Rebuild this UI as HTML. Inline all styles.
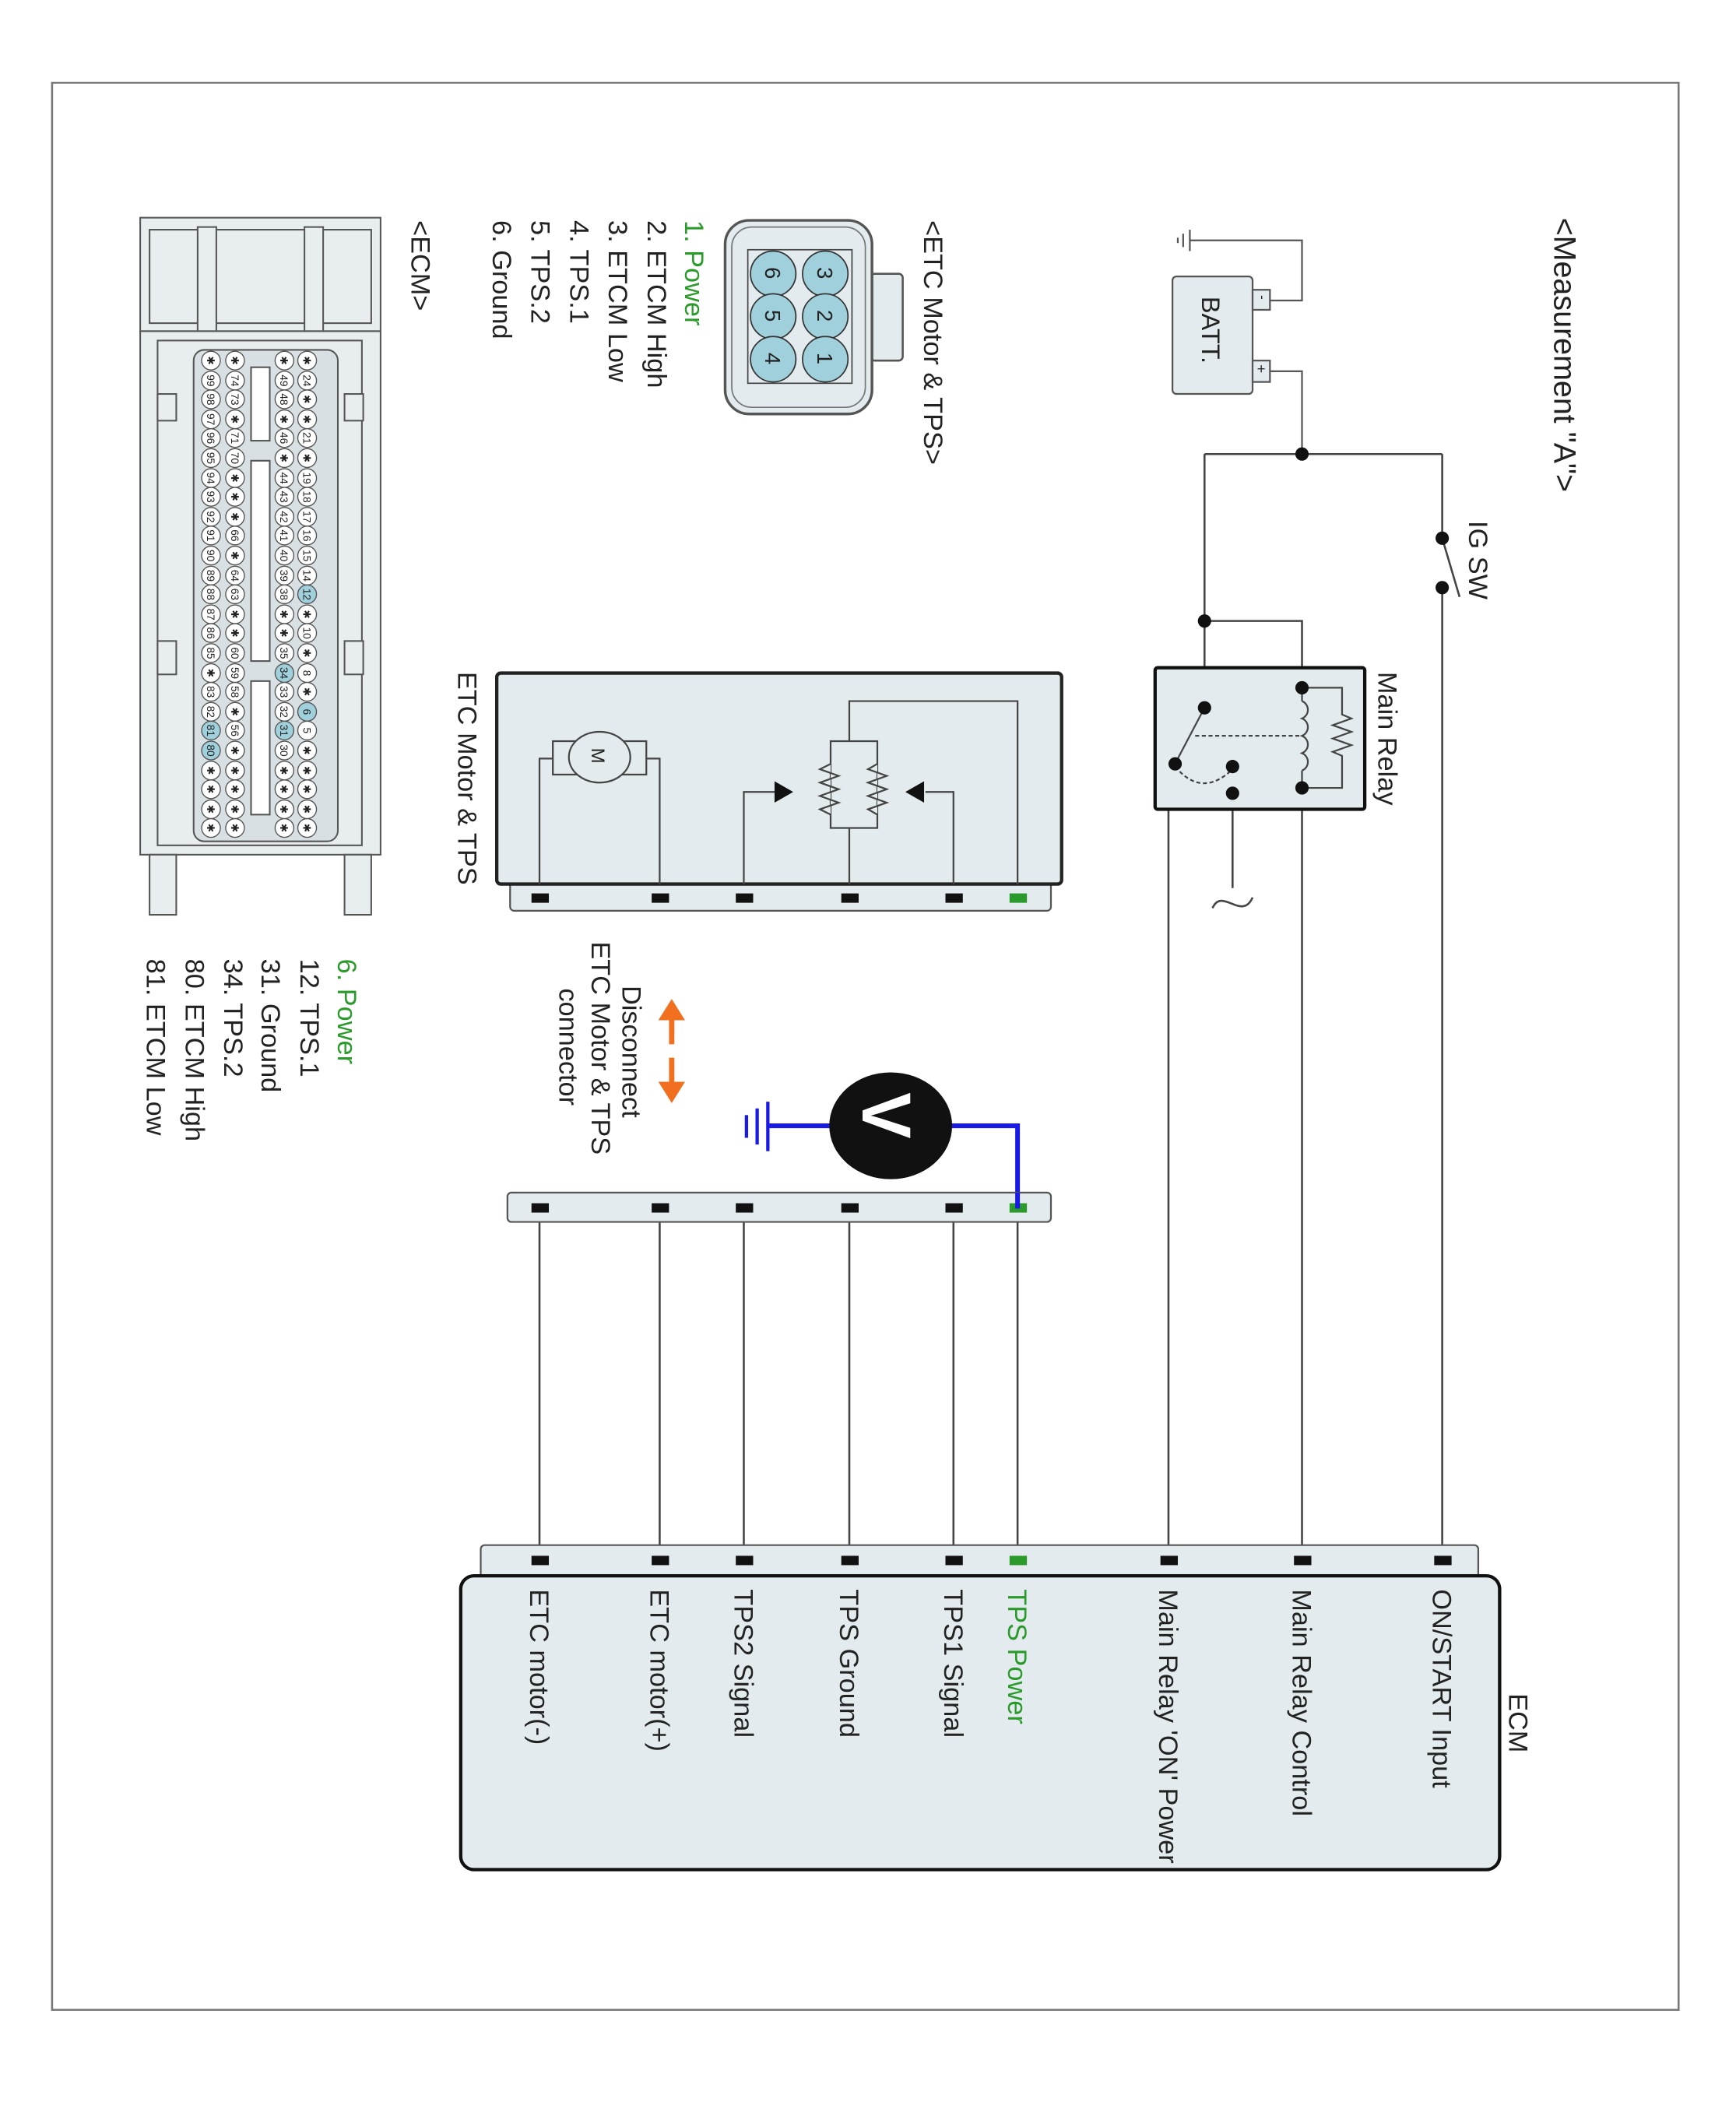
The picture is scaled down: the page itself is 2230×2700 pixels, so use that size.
<!DOCTYPE html>
<html><head><meta charset="utf-8"><style>
html,body{margin:0;padding:0;background:#fff;}
svg{display:block;}
text{font-family:"Liberation Sans",sans-serif;}
</style></head><body>
<svg width="2230" height="2700" viewBox="0 0 1300 1574" preserveAspectRatio="none" xmlns="http://www.w3.org/2000/svg">
<rect x="39" y="62" width="1218" height="1443" fill="#fff" stroke="#777" stroke-width="1.5"/>

<!-- Measurement title -->
<text transform="translate(1164,163) rotate(90)" font-size="23" fill="#222">&lt;Measurement "A"&gt;</text>

<!-- Battery -->
<g stroke="#555" stroke-width="1.3" fill="none">
<rect x="878" y="207" width="60" height="88" rx="3" fill="#e3ebee"/>
<rect x="938" y="217" width="13" height="15" fill="#e3ebee"/>
<rect x="938" y="270" width="13" height="16" fill="#e3ebee"/>
<polyline points="951,225 975,225 975,180 891,180"/>
<line x1="891" y1="172" x2="891" y2="188"/>
<line x1="886" y1="175" x2="886" y2="185"/>
<line x1="882" y1="178" x2="882" y2="182"/>
<polyline points="951,278 975,278 975,340"/>
</g>
<text transform="translate(900,222) rotate(90)" font-size="19" fill="#222">BATT.</text>
<text transform="translate(942,221) rotate(90)" font-size="10" fill="#222">-</text>
<text transform="translate(941,273) rotate(90)" font-size="11" fill="#222">+</text>

<!-- Main wiring -->
<g stroke="#444" stroke-width="1.5" fill="none">
<line x1="902" y1="340" x2="1080" y2="340"/>
<line x1="1080" y1="340" x2="1080" y2="403"/>
<line x1="1080" y1="403" x2="1093" y2="447"/>
<line x1="1080" y1="440" x2="1080" y2="1163"/>
<line x1="902" y1="340" x2="902" y2="530"/>
<polyline points="902,465 975,465 975,515"/>
<line x1="975" y1="590" x2="975" y2="1163"/>
<polyline points="923,594 875,594 875,1163"/>
<line x1="923" y1="574" x2="923" y2="665"/>
<path d="M908,680 C915,664 930,690 938,672"/>
</g>
<g fill="#111">
<circle cx="975" cy="340" r="5"/>
<circle cx="1080" cy="403" r="5"/>
<circle cx="1080" cy="440" r="5"/>
<circle cx="902" cy="465" r="5"/>
</g>
<text transform="translate(1100,390) rotate(90)" font-size="20" fill="#222">IG SW</text>

<!-- Main relay -->
<rect x="865" y="500" width="157" height="106" fill="#e3ebee" stroke="#111" stroke-width="2.5" rx="2"/>
<g stroke="#444" stroke-width="1.3" fill="none">
<path d="M975,525 a7,7 0 0 1 0,13 a7,7 0 0 1 0,13 a7,7 0 0 1 0,13 a7,7 0 0 1 0,13"/>
<line x1="975" y1="515" x2="975" y2="525"/>
<line x1="975" y1="577" x2="975" y2="590"/>
<polyline points="975,515 1005,515 1005,535 1012,538 998,543 1012,548 998,553 1012,558 998,563 1005,566 1005,590 975,590"/>
<line x1="902" y1="530" x2="882" y2="568"/>
<line x1="895" y1="551" x2="975" y2="551" stroke-dasharray="3,2"/>
<path d="M880,574 Q900,598 923,576" stroke-dasharray="3,2"/>
</g>
<g fill="#111">
<circle cx="975" cy="515" r="5"/><circle cx="975" cy="590" r="5"/>
<circle cx="902" cy="530" r="5"/><circle cx="880" cy="572" r="5"/>
<circle cx="923" cy="574" r="5"/><circle cx="923" cy="594" r="5"/>
</g>
<text transform="translate(1032,503) rotate(90)" font-size="20" fill="#222">Main Relay</text>

<!-- ETC motor & TPS box -->
<rect x="382" y="660" width="405" height="22" rx="3" fill="#e3ebee" stroke="#555" stroke-width="1.3"/>
<rect x="372" y="504" width="423" height="158" rx="3" fill="#e3ebee" stroke="#222" stroke-width="2.5"/>
<g stroke="#444" stroke-width="1.3" fill="none">
<polyline points="404,662 404,568 414,568"/>
<rect x="414" y="555" width="20" height="25"/>
<rect x="464" y="555" width="20" height="25"/>
<polyline points="484,568 494,568 494,662"/>
<ellipse cx="449" cy="567" rx="23" ry="19" fill="#e3ebee"/>
<polyline points="557,662 557,593 580,593"/>
<polyline points="714,662 714,593 693,593"/>
<polyline points="636,662 636,620"/>
<rect x="622" y="555" width="35" height="65"/>
<polyline points="636,555 636,525 762,525 762,662"/>
</g>
<g stroke="#444" stroke-width="1.3" fill="#e3ebee">
<polyline points="622,572 614,576 628,581 614,586 628,591 614,596 628,601 614,606 622,610"/>
<polyline points="657,572 650,576 664,581 650,586 664,591 650,596 664,601 650,606 657,610"/>
</g>
<polygon points="580,585 580,601 594,593" fill="#111"/>
<polygon points="692,585 692,601 678,593" fill="#111"/>
<text transform="translate(443,560) rotate(90)" font-size="14" fill="#222">M</text>
<g fill="#111">
<rect x="398" y="669" width="13" height="7"/><rect x="488" y="669" width="13" height="7"/>
<rect x="551" y="669" width="13" height="7"/><rect x="630" y="669" width="13" height="7"/>
<rect x="708" y="669" width="13" height="7"/><rect x="756" y="669" width="13" height="7" fill="#2a9a2a"/>
</g>
<text transform="translate(343,503) rotate(90)" font-size="20" fill="#222">ETC Motor &amp; TPS</text>

<!-- Voltmeter -->
<g stroke="#1a1ae6" stroke-width="3.5" fill="none">
<polyline points="710,843 762,843 762,905"/>
<line x1="623" y1="843" x2="575" y2="843"/>
</g>
<g stroke="#1a1ae6" stroke-width="2.5">
<line x1="575" y1="825" x2="575" y2="862"/>
<line x1="567" y1="830" x2="567" y2="857"/>
<line x1="559" y1="835" x2="559" y2="852"/>
</g>
<ellipse cx="667" cy="843" rx="46" ry="40" fill="#111"/>
<text transform="translate(646,818) rotate(90)" font-size="52" font-weight="bold" fill="#fff">V</text>
<!-- orange arrows -->
<g stroke="#f07020" stroke-width="4" fill="#f07020">
<line x1="503" y1="782" x2="503" y2="762"/>
<line x1="503" y1="792" x2="503" y2="812"/>
</g>
<polygon points="493,764 513,764 503,748" fill="#f07020"/>
<polygon points="493,810 513,810 503,826" fill="#f07020"/>
<text transform="translate(466,738) rotate(90)" font-size="20" fill="#222">Disconnect</text>
<text transform="translate(443,705) rotate(90)" font-size="20" fill="#222">ETC Motor &amp; TPS</text>
<text transform="translate(419,740) rotate(90)" font-size="20" fill="#222">connector</text>

<!-- Lower connector and wires -->
<g stroke="#444" stroke-width="1.5">
<line x1="404" y1="904" x2="404" y2="1168"/><line x1="494" y1="904" x2="494" y2="1168"/>
<line x1="557" y1="904" x2="557" y2="1168"/><line x1="636" y1="904" x2="636" y2="1168"/>
<line x1="714" y1="904" x2="714" y2="1168"/><line x1="762" y1="915" x2="762" y2="1168"/>
</g>
<rect x="380" y="893" width="407" height="22" rx="3" fill="#e3ebee" stroke="#555" stroke-width="1.3"/>
<g fill="#111">
<rect x="398" y="901" width="13" height="7"/><rect x="488" y="901" width="13" height="7"/>
<rect x="551" y="901" width="13" height="7"/><rect x="630" y="901" width="13" height="7"/>
<rect x="708" y="901" width="13" height="7"/><rect x="756" y="901" width="13" height="7" fill="#2a9a2a"/>
</g>
<line x1="762" y1="893" x2="762" y2="905" stroke="#1a1ae6" stroke-width="3.5"/>

<!-- ECM -->
<rect x="360" y="1157" width="747" height="25" rx="3" fill="#e3ebee" stroke="#555" stroke-width="1.3"/>
<rect x="345" y="1180" width="778" height="220" rx="10" fill="#e3ebee" stroke="#111" stroke-width="2.5"/>
<g fill="#111">
<rect x="398" y="1165" width="13" height="7"/><rect x="488" y="1165" width="13" height="7"/>
<rect x="551" y="1165" width="13" height="7"/><rect x="630" y="1165" width="13" height="7"/>
<rect x="708" y="1165" width="13" height="7"/><rect x="756" y="1165" width="13" height="7" fill="#2a9a2a"/>
<rect x="869" y="1165" width="13" height="7"/><rect x="969" y="1165" width="13" height="7"/>
<rect x="1074" y="1165" width="13" height="7"/>
</g>
<g font-size="20" fill="#222">
<text transform="translate(1130,1268) rotate(90)">ECM</text>
<text transform="translate(1073,1190) rotate(90)">ON/START Input</text>
<text transform="translate(968,1190) rotate(90)">Main Relay Control</text>
<text transform="translate(868,1190) rotate(90)">Main Relay 'ON' Power</text>
<text transform="translate(755,1190) rotate(90)" fill="#2a9a2a">TPS Power</text>
<text transform="translate(707,1190) rotate(90)">TPS1 Signal</text>
<text transform="translate(629,1190) rotate(90)">TPS Ground</text>
<text transform="translate(550,1190) rotate(90)">TPS2 Signal</text>
<text transform="translate(487,1190) rotate(90)">ETC motor(+)</text>
<text transform="translate(397,1190) rotate(90)">ETC motor(-)</text>
</g>

<!-- ETC connector view -->
<text transform="translate(692,165) rotate(90)" font-size="20" fill="#222">&lt;ETC Motor &amp; TPS&gt;</text>
<rect x="652" y="205" width="24" height="65" rx="3" fill="#e3ebee" stroke="#555" stroke-width="1.5"/>
<rect x="543" y="165" width="110" height="145" rx="18" fill="#e3ebee" stroke="#555" stroke-width="2"/>
<rect x="548" y="170" width="100" height="135" rx="15" fill="none" stroke="#777" stroke-width="1"/>
<rect x="560" y="187" width="78" height="100" fill="#e3ebee" stroke="#444" stroke-width="1"/>
<g fill="#9fd0dc" stroke="#333" stroke-width="1">
<circle cx="618" cy="205" r="17"/><circle cx="618" cy="237" r="17"/><circle cx="618" cy="269" r="17"/>
<circle cx="579" cy="205" r="17"/><circle cx="579" cy="237" r="17"/><circle cx="579" cy="269" r="17"/>
</g>
<g font-size="16" fill="#222">
<text transform="translate(612,200) rotate(90)">3</text><text transform="translate(612,232) rotate(90)">2</text><text transform="translate(612,264) rotate(90)">1</text>
<text transform="translate(573,200) rotate(90)">6</text><text transform="translate(573,232) rotate(90)">5</text><text transform="translate(573,264) rotate(90)">4</text>
</g>
<g font-size="20" fill="#222">
<text transform="translate(513,165) rotate(90)" fill="#2a9a2a">1. Power</text>
<text transform="translate(485,165) rotate(90)">2. ETCM High</text>
<text transform="translate(456,165) rotate(90)">3. ETCM Low</text>
<text transform="translate(427,165) rotate(90)">4. TPS.1</text>
<text transform="translate(398,165) rotate(90)">5. TPS.2</text>
<text transform="translate(369,165) rotate(90)">6. Ground</text>
</g>

<!-- ECM connector view -->
<text transform="translate(308,165) rotate(90)" font-size="20" fill="#222">&lt;ECM&gt;</text>
<g stroke="#555" stroke-width="1.2" fill="#e8eef0">
<rect x="105" y="163" width="180" height="85"/>
<rect x="112" y="172" width="166" height="70" fill="none"/>
<rect x="148" y="170" width="14" height="78"/>
<rect x="228" y="170" width="14" height="78"/>
<rect x="105" y="248" width="180" height="392"/>
<rect x="118" y="255" width="153" height="378"/>
<rect x="145" y="262" width="108" height="368" rx="8" fill="#d8e0e3"/>
<rect x="258" y="295" width="14" height="20"/><rect x="258" y="480" width="14" height="25"/>
<rect x="118" y="295" width="14" height="20"/><rect x="118" y="480" width="14" height="25"/>
<rect x="188" y="275" width="14" height="55" fill="#fff"/>
<rect x="188" y="345" width="14" height="150" fill="#fff"/>
<rect x="188" y="510" width="14" height="100" fill="#fff"/>
<rect x="112" y="640" width="20" height="45"/><rect x="258" y="640" width="20" height="45"/>
</g>
<g stroke="#555" stroke-width="0.8" font-size="8" fill="#222">
<g transform="translate(230,0)">
<g fill="#fff"><circle cy="270" r="7"/><circle cy="285" r="7"/><circle cy="299" r="7"/><circle cy="314" r="7"/><circle cy="328" r="7"/><circle cy="343" r="7"/><circle cy="358" r="7"/><circle cy="372" r="7"/><circle cy="387" r="7"/><circle cy="401" r="7"/><circle cy="416" r="7"/><circle cy="431" r="7"/><circle cy="445" r="7" fill="#9fd0dc"/><circle cy="460" r="7"/><circle cy="474" r="7"/><circle cy="489" r="7"/><circle cy="504" r="7"/><circle cy="518" r="7"/><circle cy="533" r="7" fill="#9fd0dc"/><circle cy="547" r="7"/><circle cy="562" r="7"/><circle cy="577" r="7"/><circle cy="591" r="7"/><circle cy="606" r="7"/><circle cy="620" r="7"/></g>
</g>
<g transform="translate(213,0)">
<g fill="#fff"><circle cy="270" r="7"/><circle cy="285" r="7"/><circle cy="299" r="7"/><circle cy="314" r="7"/><circle cy="328" r="7"/><circle cy="343" r="7"/><circle cy="358" r="7"/><circle cy="372" r="7"/><circle cy="387" r="7"/><circle cy="401" r="7"/><circle cy="416" r="7"/><circle cy="431" r="7"/><circle cy="445" r="7"/><circle cy="460" r="7"/><circle cy="474" r="7"/><circle cy="489" r="7"/><circle cy="504" r="7" fill="#9fd0dc"/><circle cy="518" r="7"/><circle cy="533" r="7"/><circle cy="547" r="7" fill="#9fd0dc"/><circle cy="562" r="7"/><circle cy="577" r="7"/><circle cy="591" r="7"/><circle cy="606" r="7"/><circle cy="620" r="7"/></g>
</g>
<g transform="translate(176,0)">
<g fill="#fff"><circle cy="270" r="7"/><circle cy="285" r="7"/><circle cy="299" r="7"/><circle cy="314" r="7"/><circle cy="328" r="7"/><circle cy="343" r="7"/><circle cy="358" r="7"/><circle cy="372" r="7"/><circle cy="387" r="7"/><circle cy="401" r="7"/><circle cy="416" r="7"/><circle cy="431" r="7"/><circle cy="445" r="7"/><circle cy="460" r="7"/><circle cy="474" r="7"/><circle cy="489" r="7"/><circle cy="504" r="7"/><circle cy="518" r="7"/><circle cy="533" r="7"/><circle cy="547" r="7"/><circle cy="562" r="7"/><circle cy="577" r="7"/><circle cy="591" r="7"/><circle cy="606" r="7"/><circle cy="620" r="7"/></g>
</g>
<g transform="translate(158,0)">
<g fill="#fff"><circle cy="270" r="7"/><circle cy="285" r="7"/><circle cy="299" r="7"/><circle cy="314" r="7"/><circle cy="328" r="7"/><circle cy="343" r="7"/><circle cy="358" r="7"/><circle cy="372" r="7"/><circle cy="387" r="7"/><circle cy="401" r="7"/><circle cy="416" r="7"/><circle cy="431" r="7"/><circle cy="445" r="7"/><circle cy="460" r="7"/><circle cy="474" r="7"/><circle cy="489" r="7"/><circle cy="504" r="7"/><circle cy="518" r="7"/><circle cy="533" r="7"/><circle cy="547" r="7" fill="#9fd0dc"/><circle cy="562" r="7" fill="#9fd0dc"/><circle cy="577" r="7"/><circle cy="591" r="7"/><circle cy="606" r="7"/><circle cy="620" r="7"/></g>
</g>
</g>
<g font-size="8" fill="#222" text-anchor="middle" stroke="none">
<g transform="translate(227,0)">
<text transform="translate(0,270) rotate(90)">✱</text><text transform="translate(0,285) rotate(90)">24</text><text transform="translate(0,299) rotate(90)">✱</text><text transform="translate(0,314) rotate(90)">✱</text><text transform="translate(0,328) rotate(90)">21</text><text transform="translate(0,343) rotate(90)">✱</text><text transform="translate(0,358) rotate(90)">19</text><text transform="translate(0,372) rotate(90)">18</text><text transform="translate(0,387) rotate(90)">17</text><text transform="translate(0,401) rotate(90)">16</text><text transform="translate(0,416) rotate(90)">15</text><text transform="translate(0,431) rotate(90)">14</text><text transform="translate(0,445) rotate(90)">12</text><text transform="translate(0,460) rotate(90)">✱</text><text transform="translate(0,474) rotate(90)">10</text><text transform="translate(0,489) rotate(90)">✱</text><text transform="translate(0,504) rotate(90)">8</text><text transform="translate(0,518) rotate(90)">✱</text><text transform="translate(0,533) rotate(90)">6</text><text transform="translate(0,547) rotate(90)">5</text><text transform="translate(0,562) rotate(90)">✱</text><text transform="translate(0,577) rotate(90)">✱</text><text transform="translate(0,591) rotate(90)">✱</text><text transform="translate(0,606) rotate(90)">✱</text><text transform="translate(0,620) rotate(90)">✱</text>
</g>
<g transform="translate(210,0)">
<text transform="translate(0,270) rotate(90)">✱</text><text transform="translate(0,285) rotate(90)">49</text><text transform="translate(0,299) rotate(90)">48</text><text transform="translate(0,314) rotate(90)">✱</text><text transform="translate(0,328) rotate(90)">46</text><text transform="translate(0,343) rotate(90)">✱</text><text transform="translate(0,358) rotate(90)">44</text><text transform="translate(0,372) rotate(90)">43</text><text transform="translate(0,387) rotate(90)">42</text><text transform="translate(0,401) rotate(90)">41</text><text transform="translate(0,416) rotate(90)">40</text><text transform="translate(0,431) rotate(90)">39</text><text transform="translate(0,445) rotate(90)">38</text><text transform="translate(0,460) rotate(90)">✱</text><text transform="translate(0,474) rotate(90)">✱</text><text transform="translate(0,489) rotate(90)">35</text><text transform="translate(0,504) rotate(90)">34</text><text transform="translate(0,518) rotate(90)">33</text><text transform="translate(0,533) rotate(90)">32</text><text transform="translate(0,547) rotate(90)">31</text><text transform="translate(0,562) rotate(90)">30</text><text transform="translate(0,577) rotate(90)">✱</text><text transform="translate(0,591) rotate(90)">✱</text><text transform="translate(0,606) rotate(90)">✱</text><text transform="translate(0,620) rotate(90)">✱</text>
</g>
<g transform="translate(173,0)">
<text transform="translate(0,270) rotate(90)">✱</text><text transform="translate(0,285) rotate(90)">74</text><text transform="translate(0,299) rotate(90)">73</text><text transform="translate(0,314) rotate(90)">✱</text><text transform="translate(0,328) rotate(90)">71</text><text transform="translate(0,343) rotate(90)">70</text><text transform="translate(0,358) rotate(90)">✱</text><text transform="translate(0,372) rotate(90)">✱</text><text transform="translate(0,387) rotate(90)">✱</text><text transform="translate(0,401) rotate(90)">66</text><text transform="translate(0,416) rotate(90)">✱</text><text transform="translate(0,431) rotate(90)">64</text><text transform="translate(0,445) rotate(90)">63</text><text transform="translate(0,460) rotate(90)">✱</text><text transform="translate(0,474) rotate(90)">✱</text><text transform="translate(0,489) rotate(90)">60</text><text transform="translate(0,504) rotate(90)">59</text><text transform="translate(0,518) rotate(90)">58</text><text transform="translate(0,533) rotate(90)">✱</text><text transform="translate(0,547) rotate(90)">56</text><text transform="translate(0,562) rotate(90)">✱</text><text transform="translate(0,577) rotate(90)">✱</text><text transform="translate(0,591) rotate(90)">✱</text><text transform="translate(0,606) rotate(90)">✱</text><text transform="translate(0,620) rotate(90)">✱</text>
</g>
<g transform="translate(155,0)">
<text transform="translate(0,270) rotate(90)">✱</text><text transform="translate(0,285) rotate(90)">99</text><text transform="translate(0,299) rotate(90)">98</text><text transform="translate(0,314) rotate(90)">97</text><text transform="translate(0,328) rotate(90)">96</text><text transform="translate(0,343) rotate(90)">95</text><text transform="translate(0,358) rotate(90)">94</text><text transform="translate(0,372) rotate(90)">93</text><text transform="translate(0,387) rotate(90)">92</text><text transform="translate(0,401) rotate(90)">91</text><text transform="translate(0,416) rotate(90)">90</text><text transform="translate(0,431) rotate(90)">89</text><text transform="translate(0,445) rotate(90)">88</text><text transform="translate(0,460) rotate(90)">87</text><text transform="translate(0,474) rotate(90)">86</text><text transform="translate(0,489) rotate(90)">85</text><text transform="translate(0,504) rotate(90)">✱</text><text transform="translate(0,518) rotate(90)">83</text><text transform="translate(0,533) rotate(90)">82</text><text transform="translate(0,547) rotate(90)">81</text><text transform="translate(0,562) rotate(90)">80</text><text transform="translate(0,577) rotate(90)">✱</text><text transform="translate(0,591) rotate(90)">✱</text><text transform="translate(0,606) rotate(90)">✱</text><text transform="translate(0,620) rotate(90)">✱</text>
</g>
</g>
<g font-size="20" fill="#222">
<text transform="translate(253,718) rotate(90)" fill="#2a9a2a">6. Power</text>
<text transform="translate(225,718) rotate(90)">12. TPS.1</text>
<text transform="translate(196,718) rotate(90)">31. Ground</text>
<text transform="translate(168,718) rotate(90)">34. TPS.2</text>
<text transform="translate(139,718) rotate(90)">80. ETCM High</text>
<text transform="translate(110,718) rotate(90)">81. ETCM Low</text>
</g>
</svg>
</body></html>
